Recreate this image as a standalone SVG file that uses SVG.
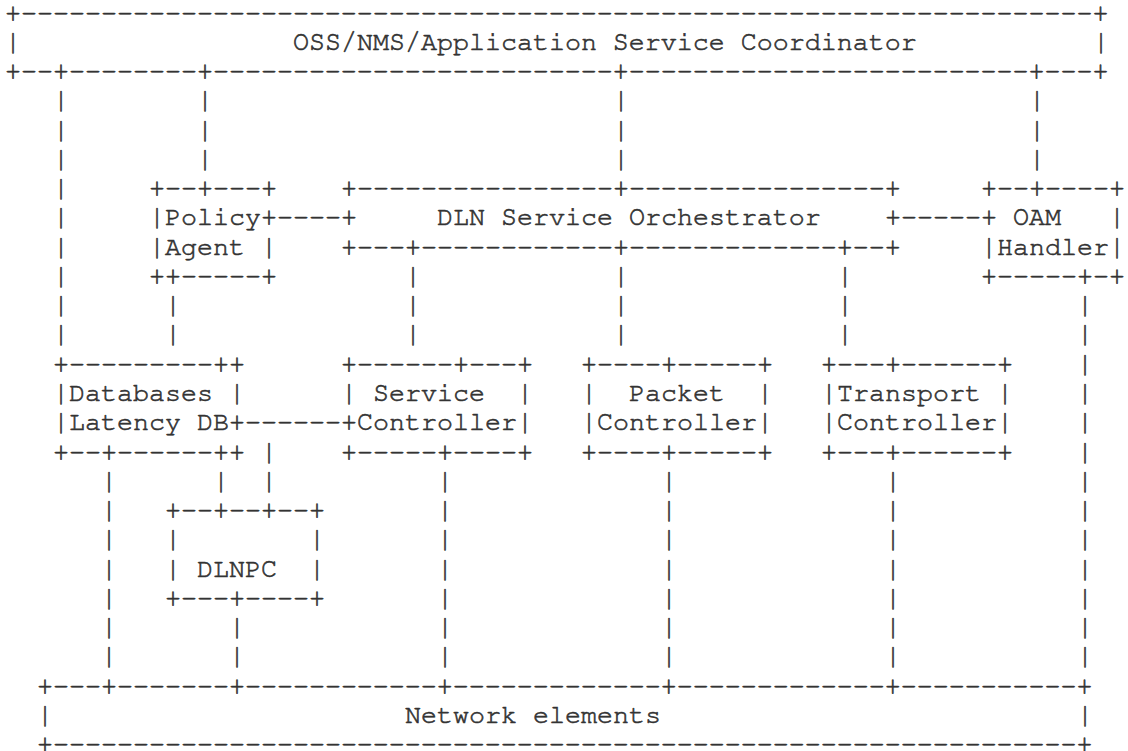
<svg xmlns="http://www.w3.org/2000/svg" width="1128" height="751" viewBox="0 0 1128 751" xml:space="preserve">
<style>
text{font-family:"Nimbus Mono PS","Nimbus Mono L","FreeMono","Courier","Liberation Mono",monospace;font-size:26.67px;fill:#333;stroke:#333;stroke-width:0.6px;white-space:pre}
</style>
<rect width="1128" height="751" fill="#fff"/>
<g id="coordinator">
<text x="5" y="20.5">+-------------------------------------------------------------------+</text>
<text x="5" y="49.77">|</text>
<text x="293" y="49.77">OSS/NMS/Application Service Coordinator</text>
<text x="1093" y="49.77">|</text>
<text x="5" y="79.04">+--+--------+-------------------------+-------------------------+---+</text>
</g>
<g id="policy-agent">
<text x="149" y="196.12">+--+---+</text>
<text x="149" y="225.39">|Policy+</text>
<text x="149" y="254.66">|Agent |</text>
<text x="149" y="283.93">++-----+</text>
</g>
<g id="orchestrator">
<text x="341" y="196.12">+----------------+----------------+</text>
<text x="341" y="225.39">+</text>
<text x="437" y="225.39">DLN Service Orchestrator</text>
<text x="885" y="225.39">+</text>
<text x="341" y="254.66">+---+------------+-------------+--+</text>
</g>
<g id="oam-handler">
<text x="981" y="196.12">+--+----+</text>
<text x="981" y="225.39">+</text>
<text x="1013" y="225.39">OAM</text>
<text x="1109" y="225.39">|</text>
<text x="981" y="254.66">|Handler|</text>
<text x="981" y="283.93">+-----+-+</text>
</g>
<g id="databases">
<text x="53" y="371.74">+---------++</text>
<text x="53" y="401.01">|Databases |</text>
<text x="53" y="430.28">|Latency DB+</text>
<text x="53" y="459.55">+--+------++</text>
</g>
<g id="service-controller">
<text x="341" y="371.74">+------+---+</text>
<text x="341" y="401.01">|</text>
<text x="373" y="401.01">Service</text>
<text x="517" y="401.01">|</text>
<text x="341" y="430.28">+Controller|</text>
<text x="341" y="459.55">+-----+----+</text>
</g>
<g id="packet-controller">
<text x="581" y="371.74">+----+-----+</text>
<text x="581" y="401.01">|</text>
<text x="629" y="401.01">Packet</text>
<text x="757" y="401.01">|</text>
<text x="581" y="430.28">|Controller|</text>
<text x="581" y="459.55">+----+-----+</text>
</g>
<g id="transport-controller">
<text x="821" y="371.74">+---+------+</text>
<text x="821" y="401.01">|Transport |</text>
<text x="821" y="430.28">|Controller|</text>
<text x="821" y="459.55">+---+------+</text>
</g>
<g id="dlnpc">
<text x="165" y="518.09">+--+--+--+</text>
<text x="165" y="547.36">|</text>
<text x="309" y="547.36">|</text>
<text x="165" y="576.63">|</text>
<text x="197" y="576.63">DLNPC</text>
<text x="309" y="576.63">|</text>
<text x="165" y="605.9">+---+----+</text>
</g>
<g id="network-elements">
<text x="37" y="693.71">+---+-------+------------+-------------+-------------+-----------+</text>
<text x="37" y="722.98">|</text>
<text x="405" y="722.98">Network elements</text>
<text x="1077" y="722.98">|</text>
<text x="37" y="751.5">+----------------------------------------------------------------+</text>
</g>
<g id="connectors">
<text><tspan x="53" y="108.31">|</tspan><tspan x="53" y="137.58">|</tspan><tspan x="53" y="166.85">|</tspan><tspan x="53" y="196.12">|</tspan><tspan x="53" y="225.39">|</tspan><tspan x="53" y="254.66">|</tspan><tspan x="53" y="283.93">|</tspan><tspan x="53" y="313.2">|</tspan><tspan x="53" y="342.47">|</tspan></text>
<text><tspan x="197" y="108.31">|</tspan><tspan x="197" y="137.58">|</tspan><tspan x="197" y="166.85">|</tspan></text>
<text><tspan x="613" y="108.31">|</tspan><tspan x="613" y="137.58">|</tspan><tspan x="613" y="166.85">|</tspan></text>
<text><tspan x="1029" y="108.31">|</tspan><tspan x="1029" y="137.58">|</tspan><tspan x="1029" y="166.85">|</tspan></text>
<text x="277" y="225.39">----</text>
<text x="901" y="225.39">-----</text>
<text><tspan x="165" y="313.2">|</tspan><tspan x="165" y="342.47">|</tspan></text>
<text><tspan x="405" y="283.93">|</tspan><tspan x="405" y="313.2">|</tspan><tspan x="405" y="342.47">|</tspan></text>
<text><tspan x="613" y="283.93">|</tspan><tspan x="613" y="313.2">|</tspan><tspan x="613" y="342.47">|</tspan></text>
<text><tspan x="837" y="283.93">|</tspan><tspan x="837" y="313.2">|</tspan><tspan x="837" y="342.47">|</tspan></text>
<text><tspan x="1077" y="313.2">|</tspan><tspan x="1077" y="342.47">|</tspan><tspan x="1077" y="371.74">|</tspan><tspan x="1077" y="401.01">|</tspan><tspan x="1077" y="430.28">|</tspan><tspan x="1077" y="459.55">|</tspan><tspan x="1077" y="488.82">|</tspan><tspan x="1077" y="518.09">|</tspan><tspan x="1077" y="547.36">|</tspan><tspan x="1077" y="576.63">|</tspan><tspan x="1077" y="605.9">|</tspan><tspan x="1077" y="635.17">|</tspan><tspan x="1077" y="664.44">|</tspan></text>
<text x="245" y="430.28">------</text>
<text><tspan x="261" y="459.55">|</tspan><tspan x="261" y="488.82">|</tspan></text>
<text x="213" y="488.82">|</text>
<text><tspan x="101" y="488.82">|</tspan><tspan x="101" y="518.09">|</tspan><tspan x="101" y="547.36">|</tspan><tspan x="101" y="576.63">|</tspan><tspan x="101" y="605.9">|</tspan><tspan x="101" y="635.17">|</tspan><tspan x="101" y="664.44">|</tspan></text>
<text><tspan x="229" y="635.17">|</tspan><tspan x="229" y="664.44">|</tspan></text>
<text><tspan x="437" y="488.82">|</tspan><tspan x="437" y="518.09">|</tspan><tspan x="437" y="547.36">|</tspan><tspan x="437" y="576.63">|</tspan><tspan x="437" y="605.9">|</tspan><tspan x="437" y="635.17">|</tspan><tspan x="437" y="664.44">|</tspan></text>
<text><tspan x="661" y="488.82">|</tspan><tspan x="661" y="518.09">|</tspan><tspan x="661" y="547.36">|</tspan><tspan x="661" y="576.63">|</tspan><tspan x="661" y="605.9">|</tspan><tspan x="661" y="635.17">|</tspan><tspan x="661" y="664.44">|</tspan></text>
<text><tspan x="885" y="488.82">|</tspan><tspan x="885" y="518.09">|</tspan><tspan x="885" y="547.36">|</tspan><tspan x="885" y="576.63">|</tspan><tspan x="885" y="605.9">|</tspan><tspan x="885" y="635.17">|</tspan><tspan x="885" y="664.44">|</tspan></text>
</g>
</svg>
